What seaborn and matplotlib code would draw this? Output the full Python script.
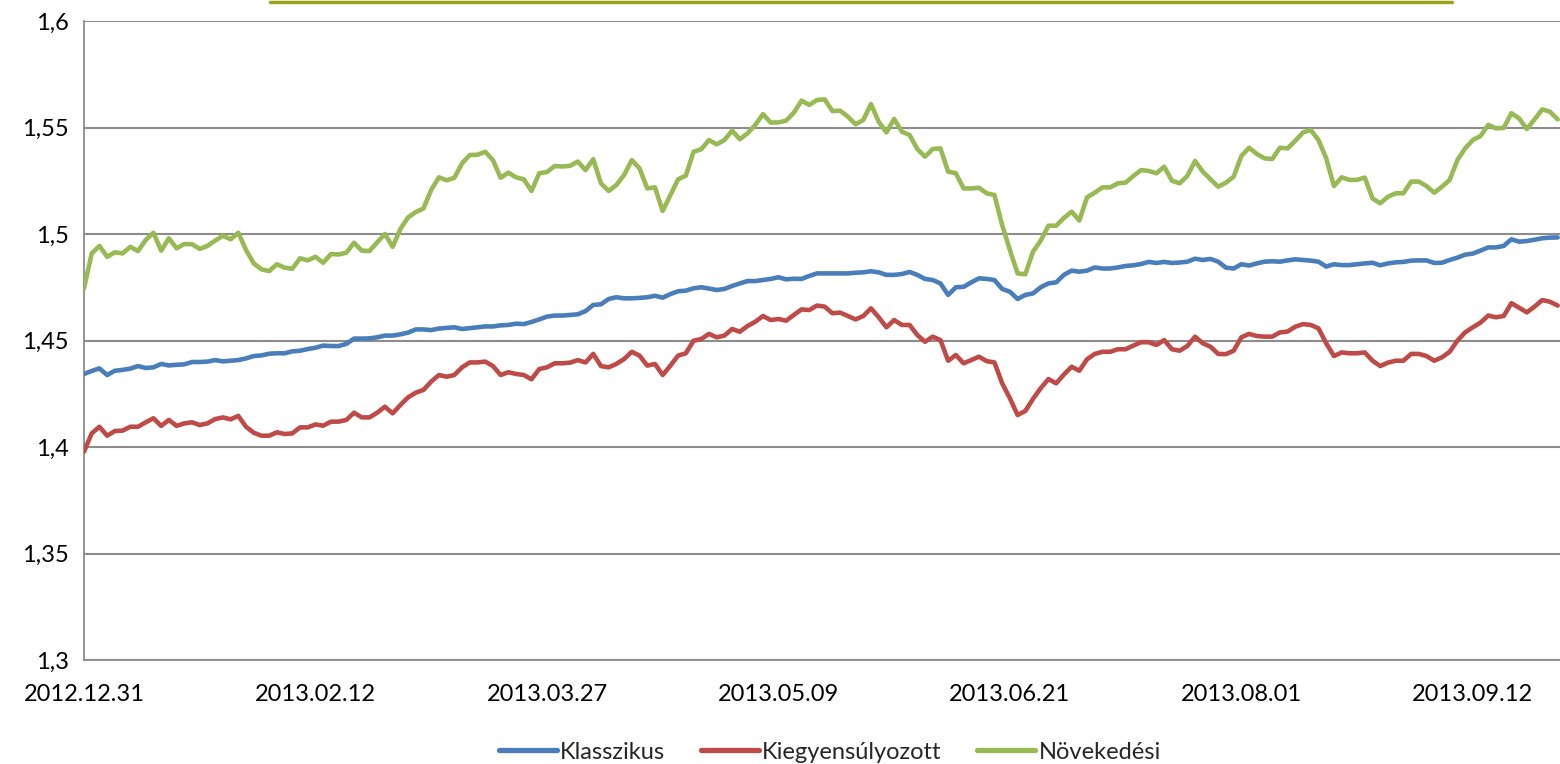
import numpy as np
import pandas as pd
import seaborn as sns
import matplotlib.pyplot as plt
from matplotlib.ticker import FuncFormatter, FixedLocator
from matplotlib.lines import Line2D

# tick labels along the category axis (every 30th trading day)
tick_labels = ["2012.12.31", "2013.02.12", "2013.03.27", "2013.05.09",
               "2013.06.21", "2013.08.01", "2013.09.12"]
tick_step = 30

klasszikus = [
    1.4343, 1.4357, 1.4369, 1.4338, 1.4358, 1.4362, 1.4368, 1.4380, 1.4371, 1.4374, 1.4390, 1.4383, 1.4386, 1.4388, 1.4399, 1.4399,
    1.4401, 1.4408, 1.4402, 1.4405, 1.4408, 1.4416, 1.4427, 1.4430, 1.4438, 1.4440, 1.4440, 1.4449, 1.4452, 1.4460, 1.4466, 1.4476,
    1.4474, 1.4474, 1.4484, 1.4509, 1.4509, 1.4510, 1.4515, 1.4523, 1.4523, 1.4529, 1.4537, 1.4552, 1.4552, 1.4549, 1.4556, 1.4559,
    1.4562, 1.4554, 1.4558, 1.4562, 1.4566, 1.4566, 1.4571, 1.4573, 1.4579, 1.4577, 1.4587, 1.4599, 1.4612, 1.4617, 1.4617, 1.4620,
    1.4623, 1.4638, 1.4667, 1.4670, 1.4695, 1.4703, 1.4698, 1.4698, 1.4700, 1.4703, 1.4710, 1.4701, 1.4718, 1.4731, 1.4734, 1.4745,
    1.4750, 1.4744, 1.4737, 1.4742, 1.4756, 1.4768, 1.4779, 1.4779, 1.4784, 1.4789, 1.4797, 1.4787, 1.4790, 1.4789, 1.4803, 1.4815,
    1.4815, 1.4815, 1.4815, 1.4815, 1.4818, 1.4820, 1.4825, 1.4820, 1.4808, 1.4808, 1.4812, 1.4822, 1.4808, 1.4789, 1.4784, 1.4768,
    1.4714, 1.4750, 1.4752, 1.4773, 1.4792, 1.4789, 1.4784, 1.4742, 1.4729, 1.4695, 1.4714, 1.4721, 1.4750, 1.4768, 1.4773, 1.4808,
    1.4828, 1.4823, 1.4828, 1.4843, 1.4838, 1.4838, 1.4843, 1.4850, 1.4853, 1.4859, 1.4869, 1.4864, 1.4869, 1.4864, 1.4866, 1.4870,
    1.4884, 1.4878, 1.4883, 1.4870, 1.4842, 1.4838, 1.4858, 1.4852, 1.4862, 1.4870, 1.4872, 1.4870, 1.4876, 1.4881, 1.4878,
    1.4875, 1.4870, 1.4847, 1.4858, 1.4854, 1.4854, 1.4858, 1.4862, 1.4865, 1.4853, 1.4862, 1.4867, 1.4869, 1.4875, 1.4876, 1.4876,
    1.4864, 1.4865, 1.4878, 1.4889, 1.4903, 1.4908, 1.4922, 1.4937, 1.4937, 1.4944, 1.4975, 1.4964, 1.4967, 1.4973, 1.4980, 1.4983,
    1.4984,
]

kiegyensulyozott = [
    1.3978, 1.4064, 1.4095, 1.4053, 1.4075, 1.4077, 1.4095, 1.4095, 1.4116, 1.4135, 1.4099, 1.4127, 1.4099, 1.4111, 1.4116, 1.4103,
    1.4111, 1.4131, 1.4139, 1.4130, 1.4146, 1.4095, 1.4067, 1.4053, 1.4053, 1.4069, 1.4061, 1.4064, 1.4092, 1.4092, 1.4106, 1.4100,
    1.4119, 1.4119, 1.4127, 1.4161, 1.4139, 1.4139, 1.4161, 1.4189, 1.4158, 1.4197, 1.4233, 1.4255, 1.4268, 1.4307, 1.4338, 1.4330,
    1.4338, 1.4374, 1.4397, 1.4397, 1.4401, 1.4380, 1.4338, 1.4351, 1.4343, 1.4338, 1.4318, 1.4366, 1.4374, 1.4393, 1.4393, 1.4396,
    1.4408, 1.4397, 1.4437, 1.4380, 1.4374, 1.4390, 1.4413, 1.4447, 1.4429, 1.4382, 1.4390, 1.4338, 1.4382, 1.4429, 1.4440, 1.4499,
    1.4507, 1.4531, 1.4515, 1.4523, 1.4554, 1.4541, 1.4568, 1.4588, 1.4615, 1.4596, 1.4601, 1.4593, 1.4620, 1.4646, 1.4643, 1.4664,
    1.4659, 1.4628, 1.4631, 1.4615, 1.4599, 1.4615, 1.4651, 1.4609, 1.4562, 1.4596, 1.4573, 1.4573, 1.4526, 1.4494, 1.4518, 1.4502,
    1.4405, 1.4432, 1.4393, 1.4408, 1.4424, 1.4403, 1.4397, 1.4299, 1.4229, 1.4150, 1.4169, 1.4226, 1.4276, 1.4319, 1.4299, 1.4340,
    1.4377, 1.4358, 1.4412, 1.4437, 1.4447, 1.4447, 1.4459, 1.4459, 1.4476, 1.4492, 1.4492, 1.4479, 1.4502, 1.4459, 1.4452, 1.4474,
    1.4518, 1.4487, 1.4471, 1.4437, 1.4436, 1.4452, 1.4515, 1.4531, 1.4521, 1.4518, 1.4518, 1.4538, 1.4542, 1.4565, 1.4577,
    1.4573, 1.4557, 1.4487, 1.4427, 1.4444, 1.4440, 1.4440, 1.4444, 1.4405, 1.4380, 1.4396, 1.4405, 1.4405, 1.4437, 1.4437, 1.4427,
    1.4405, 1.4421, 1.4447, 1.4499, 1.4538, 1.4562, 1.4584, 1.4617, 1.4609, 1.4615, 1.4675, 1.4654, 1.4632, 1.4659, 1.4690, 1.4682,
    1.4664,
]

novekedesi = [
    1.4745, 1.4909, 1.4944, 1.4893, 1.4914, 1.4909, 1.4940, 1.4920, 1.4972, 1.5006, 1.4922, 1.4980, 1.4933, 1.4953, 1.4952, 1.4930,
    1.4944, 1.4969, 1.4992, 1.4975, 1.5006, 1.4925, 1.4862, 1.4834, 1.4826, 1.4858, 1.4842, 1.4837, 1.4886, 1.4876, 1.4893, 1.4865,
    1.4906, 1.4904, 1.4912, 1.4959, 1.4922, 1.4920, 1.4961, 1.5000, 1.4940, 1.5023, 1.5078, 1.5103, 1.5120, 1.5207, 1.5266, 1.5252,
    1.5264, 1.5332, 1.5371, 1.5372, 1.5386, 1.5347, 1.5264, 1.5288, 1.5266, 1.5257, 1.5202, 1.5285, 1.5291, 1.5319, 1.5317, 1.5320,
    1.5340, 1.5300, 1.5351, 1.5238, 1.5202, 1.5230, 1.5277, 1.5347, 1.5308, 1.5214, 1.5219, 1.5108, 1.5183, 1.5257, 1.5274, 1.5386,
    1.5398, 1.5441, 1.5421, 1.5441, 1.5485, 1.5445, 1.5473, 1.5512, 1.5563, 1.5523, 1.5524, 1.5532, 1.5570, 1.5626, 1.5606, 1.5629,
    1.5632, 1.5577, 1.5579, 1.5551, 1.5515, 1.5535, 1.5610, 1.5527, 1.5477, 1.5540, 1.5480, 1.5465, 1.5399, 1.5363, 1.5399, 1.5402,
    1.5293, 1.5285, 1.5214, 1.5214, 1.5217, 1.5191, 1.5183, 1.5042, 1.4925, 1.4815, 1.4811, 1.4917, 1.4969, 1.5039, 1.5039, 1.5075,
    1.5105, 1.5063, 1.5172, 1.5194, 1.5219, 1.5219, 1.5238, 1.5241, 1.5272, 1.5300, 1.5296, 1.5285, 1.5316, 1.5250, 1.5238, 1.5272,
    1.5343, 1.5293, 1.5257, 1.5222, 1.5241, 1.5269, 1.5366, 1.5405, 1.5376, 1.5355, 1.5352, 1.5405, 1.5402, 1.5438, 1.5477,
    1.5488, 1.5441, 1.5355, 1.5225, 1.5266, 1.5254, 1.5254, 1.5265, 1.5167, 1.5144, 1.5175, 1.5191, 1.5191, 1.5246, 1.5246, 1.5225,
    1.5194, 1.5222, 1.5254, 1.5347, 1.5402, 1.5441, 1.5460, 1.5512, 1.5496, 1.5498, 1.5567, 1.5543, 1.5493, 1.5538, 1.5585, 1.5574,
    1.5538,
]

series_names = ["Klasszikus", "Kiegyensúlyozott", "Növekedési"]
colors = ["#4A7EBB", "#BE4B48", "#98B954"]


def main():
    sns.set_style("white")
    plt.rcParams["font.family"] = ["Lato", "DejaVu Sans"]

    frames = []
    for name, vals in zip(series_names, [klasszikus, kiegyensulyozott, novekedesi]):
        frames.append(pd.DataFrame({"idx": np.arange(len(vals)), "value": vals, "series": name}))
    df = pd.concat(frames, ignore_index=True)

    fig = plt.figure(figsize=(15.6, 7.64), dpi=100)
    ax = fig.add_axes([84 / 1560, 1 - 660 / 764, 1 - 84 / 1560, (660 - 21) / 764])

    sns.lineplot(data=df, x="idx", y="value", hue="series", hue_order=series_names,
                 palette=colors, linewidth=3.3, ax=ax, legend=False, zorder=3)

    ax.set_xlim(0, 191.3)
    ax.set_ylim(1.3, 1.6)
    ax.set_yticks(np.arange(1.3, 1.6001, 0.05))
    ax.yaxis.set_major_formatter(FuncFormatter(lambda v, p: f"{v:.2f}".rstrip("0").replace(".", ",")))
    ax.xaxis.set_major_locator(FixedLocator([i * tick_step for i in range(len(tick_labels))]))
    ax.set_xticklabels(tick_labels)
    ax.set_xlabel("")
    ax.set_ylabel("")

    ax.grid(axis="y", color="#8C8C8C", linewidth=1.5)
    ax.grid(axis="x", visible=False)
    for side in ["top", "right"]:
        ax.spines[side].set_visible(False)
    for side in ["left", "bottom"]:
        ax.spines[side].set_color("#8C8C8C")
        ax.spines[side].set_linewidth(1.3)
        ax.spines[side].set_zorder(1)
    ax.tick_params(axis="both", which="major", direction="out", length=7, width=1.3,
                   color="#8C8C8C", labelsize=17, labelcolor="black")
    ax.tick_params(axis="x", pad=10)
    ax.tick_params(axis="y", pad=4)

    # olive title underline, mostly cut off at the top of the image
    fig.add_artist(Line2D([270 / 1560, 1452 / 1560], [1 - 1.5 / 764, 1 - 1.5 / 764],
                          color="#9AA31E", linewidth=2.5, transform=fig.transFigure))

    handles = [Line2D([0], [0], color=c, linewidth=3.8) for c in colors]
    fig.legend(handles, series_names, loc="lower center", bbox_to_anchor=(0.532, -0.026),
               ncol=3, frameon=False, fontsize=17, handlelength=2.45,
               handletextpad=0.15, columnspacing=1.5)

    fig.savefig("out.png", dpi=100)
    plt.close(fig)


if __name__ == "__main__":
    main()
